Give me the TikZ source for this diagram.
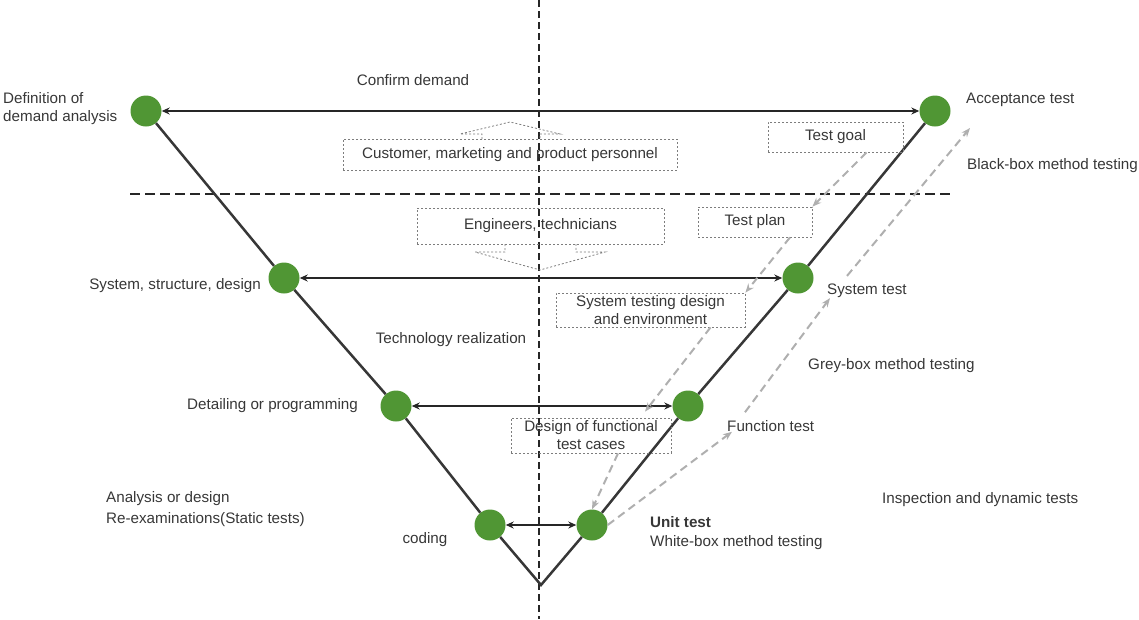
\documentclass[tikz,border=0pt]{standalone}
\usepackage{fontspec}
\setmainfont{Liberation Sans}
\usetikzlibrary{arrows.meta}
\definecolor{dotgreen}{RGB}{80,150,52}
\definecolor{vline}{RGB}{55,55,55}
\definecolor{gdash}{RGB}{175,175,175}
\definecolor{boxdash}{RGB}{125,125,125}
\definecolor{txt}{RGB}{55,55,55}
\begin{document}
\begin{tikzpicture}[x=1pt,y=-1pt,
  dot/.style={circle,fill=dotgreen,minimum size=31pt,inner sep=0pt},
  lbl/.style={font=\fontsize{15.2}{18}\selectfont,text=txt,inner sep=0pt},
  dbox/.style={draw=boxdash,dash pattern=on 2pt off 2pt,line width=0.8pt,inner sep=0pt,
               font=\fontsize{15.2}{18}\selectfont,text=txt},
  callout/.style={draw=boxdash,dash pattern=on 2pt off 2pt,line width=0.8pt},
  vee/.style={draw=vline,line width=2.5pt},
  harr/.style={draw=black!85,line width=2pt,
               {Stealth[length=8pt,width=7pt]}-{Stealth[length=8pt,width=7pt]}},
  garr/.style={draw=gdash,line width=2pt,dash pattern=on 8pt off 5pt,
               -{Stealth[length=9pt,width=7pt]}},
  vdash/.style={draw=black!85,line width=1.5pt,dash pattern=on 7pt off 4pt},
  hdash/.style={draw=black!85,line width=2.5pt,dash pattern=on 10pt off 5pt}
]
\useasboundingbox (0,0) rectangle (1139,619);

% axis lines
\coordinate (vtop) at (539,0);
\coordinate (vbot) at (539,619);
\draw[vdash] (vtop) -- (vbot);
\coordinate (hl) at (130,194);
\coordinate (hr) at (952,194);
\draw[hdash] (hl) -- (hr);

% nodes of the V
\coordinate (V) at (541,585);
\node[dot] (A) at (146,111) {};
\node[dot] (B) at (284,278) {};
\node[dot] (C) at (396,406) {};
\node[dot] (D) at (490,525) {};
\node[dot] (E) at (592,525) {};
\node[dot] (F) at (688,406) {};
\node[dot] (G) at (798,278) {};
\node[dot] (H) at (935,111) {};

\draw[vee] (A) -- (B) -- (C) -- (D) -- (V) -- (E) -- (F) -- (G) -- (H);

% horizontal arrows
\draw[harr] (A) -- (H);
\draw[harr] (B) -- (G);
\draw[harr] (C) -- (F);
\draw[harr] (D) -- (E);

% labels
\node[lbl,anchor=west,align=left] (lA) at (3,109) {Definition of\\demand analysis};
\node[lbl] (lconf) at (413,80) {Confirm demand};
\node[lbl,anchor=west] (lH) at (966,100) {Acceptance test};
\node[lbl,anchor=west] (lblack) at (967,166) {Black-box method testing};
\node[lbl,anchor=east] (lB) at (261,286) {System, structure, design};
\node[lbl,anchor=west] (lG) at (827,291) {System test};
\node[lbl] (ltech) at (451,340) {Technology realization};
\node[lbl,anchor=west] (lgrey) at (808,366) {Grey-box method testing};
\node[lbl,anchor=west] (lC) at (187,406) {Detailing or programming};
\node[lbl,anchor=west] (lF) at (727,426) {Function test};
\node[lbl,anchor=west,align=left,font=\fontsize{15.2}{21}\selectfont] (lstat) at (106,509) {Analysis or design\\Re-examinations(Static tests)};
\node[lbl] (lD) at (425,540) {coding};
\node[lbl,anchor=west,align=left,font=\fontsize{15.2}{19}\selectfont] (lE) at (650,533) {\textbf{Unit test}\\White-box method testing};
\node[lbl,anchor=west] (linsp) at (882,500) {Inspection and dynamic tests};

% dashed boxes
\node[dbox,minimum width=334pt,minimum height=31pt] (cust) at (510,154.5) {Customer, marketing and product personnel};
\node[dbox,minimum width=247pt,minimum height=36pt] (eng) at (540.5,226) {Engineers, technicians};
\node[dbox,minimum width=135pt,minimum height=30pt] (goal) at (835.5,137) {Test goal};
\node[dbox,minimum width=114pt,minimum height=30pt] (plan) at (755,222) {Test plan};
\node[dbox,minimum width=189pt,minimum height=34pt,align=center] (sysd) at (650.5,310) {System testing design\\and environment};
\node[dbox,minimum width=160pt,minimum height=35pt,align=center] (fund) at (591,435.5) {Design of functional\\test cases};

% callout arrows
\draw[callout] (482,139) -- (482,134) -- (460,134) -- (510,122) -- (560,134) -- (540,134) -- (540,139);
\draw[callout] (505,244) -- (505,252) -- (475,252) -- (540,270) -- (605,252) -- (576,252) -- (576,244);

% grey dashed arrows (inner chain)
\draw[garr] ([xshift=31pt]goal.south) -- (plan.north east);
\draw[garr] ([xshift=35pt]plan.south) -- (sysd.north east);
\draw[garr] ([xshift=60pt]sysd.south) -- ([xshift=54pt,yshift=6pt]fund.north);
\draw[garr] ([xshift=27pt]fund.south) -- (E.north);

% grey dashed arrows (outer chain)
\coordinate (g7e) at (970,128);
\draw[garr] (E.east) -- ([xshift=5pt]lF.south west);
\draw[garr] ([xshift=18pt,yshift=8pt]lF.north west) -- ([xshift=3pt]lG.south west);
\draw[garr] ([xshift=20pt,yshift=8pt]lG.north west) -- (g7e);
\end{tikzpicture}
\end{document}
